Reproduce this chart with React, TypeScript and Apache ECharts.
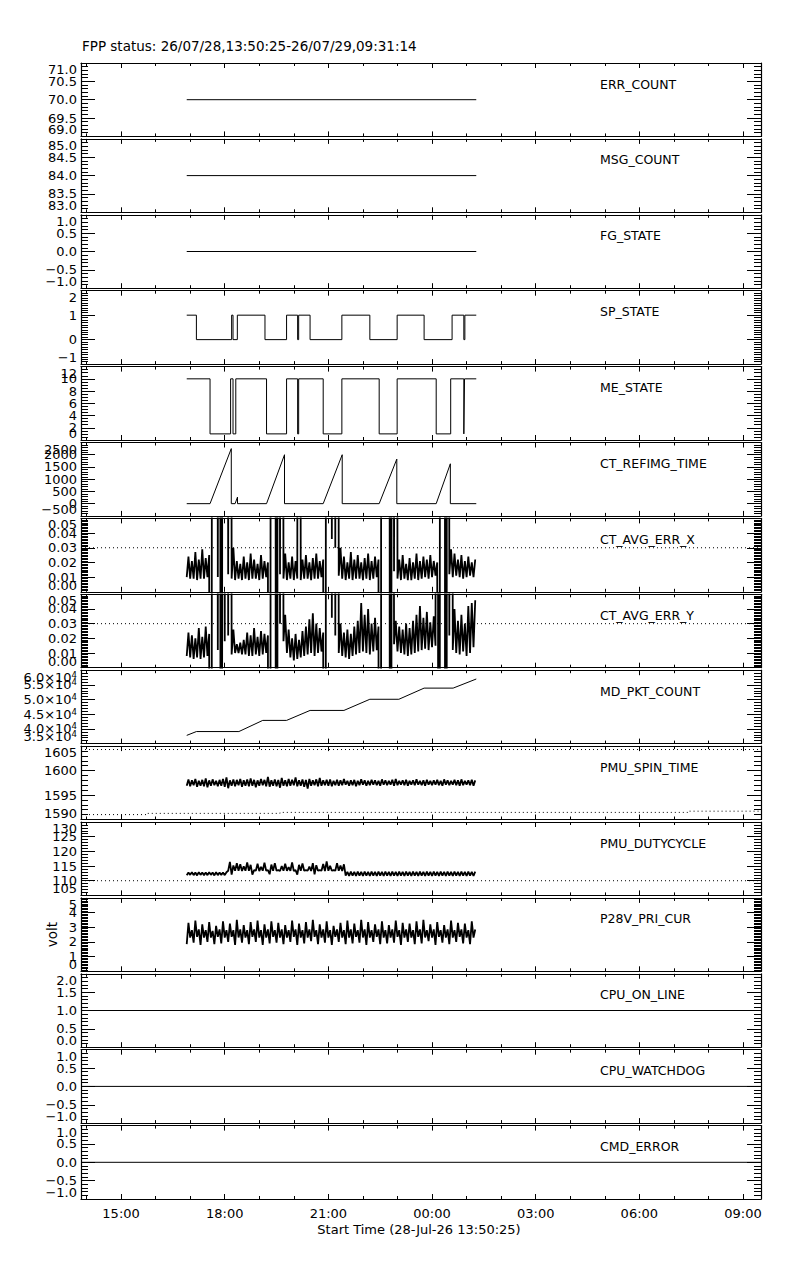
import React, { useEffect, useRef } from "react";
import * as echarts from "echarts";

const TITLE = "FPP status: 26/07/28,13:50:25-26/07/29,09:31:14";
const X_TITLE = "Start Time (28-Jul-26 13:50:25)";
const Y_NAME_P28V = "volt";

// hours since 2026-07-28 00:00
const T_START = 13 + 50 / 60 + 25 / 3600;
const T_END = 33 + 31 / 60 + 14 / 3600;
const MAJOR_HOURS = [15, 18, 21, 24, 27, 30, 33];
const MINOR_HOURS = [14, 16, 17, 19, 20, 22, 23, 25, 26, 28, 29, 31, 32];

const PANEL_NAMES = [
  "ERR_COUNT", "MSG_COUNT", "FG_STATE", "SP_STATE", "ME_STATE", "CT_REFIMG_TIME",
  "CT_AVG_ERR_X", "CT_AVG_ERR_Y", "MD_PKT_COUNT", "PMU_SPIN_TIME", "PMU_DUTYCYCLE",
  "P28V_PRI_CUR", "CPU_ON_LINE", "CPU_WATCHDOG", "CMD_ERROR",
];
const Y_MIN = [69, 83, -1, -1, 0, -500, 0, 0, 35000, 1590, 105, 0, 0, -1, -1];
const Y_MAX = [71, 85, 1, 2, 12, 2500, 0.05, 0.05, 60000, 1605, 130, 5, 2, 1, 1];
const Y_STEP = [0.5, 0.5, 0.5, 1, 2, 500, 0.01, 0.01, 5000, 5, 5, 1, 0.5, 0.5, 0.5];
const Y_MINOR = [5, 5, 5, 10, 4, 5, 10, 10, 5, 5, 5, 10, 5, 5, 5];
const Y_DECIMALS = [1, 1, 1, 0, 0, 0, 2, 2, 1, 0, 0, 0, 1, 1, 1];

// data span of the recorded telemetry
const SEG_START = 16.9;
const SEG_END = 25.28;

const ERR_COUNT = 70;
const MSG_COUNT = 84;
const FG_STATE = 0;
const CPU_ON_LINE = 1;
const CPU_WATCHDOG = 0;
const CMD_ERROR = 0;

const SP_T = [16.9, 17.18, 18.2, 18.24, 18.365, 19.165, 19.79, 20.11, 20.14, 20.47, 21.39, 22.2, 22.99, 23.77, 24.58, 24.92, 24.95, 25.28];
const SP_V = [1, 0, 1, 0, 1, 0, 1, 0, 1, 0, 1, 0, 1, 0, 1, 0, 1, 1];

const ME_T = [16.9, 17.575, 18.17, 18.24, 18.32, 19.21, 19.79, 20.11, 20.14, 20.85, 21.39, 22.47, 22.99, 24.12, 24.54, 24.92, 24.94, 25.28];
const ME_V = [10, 1, 10, 1, 10, 1, 10, 1, 10, 1, 10, 1, 10, 1, 10, 1, 10, 10];

const CTREF_T = [16.9, 17.575, 18.19, 18.19, 18.3, 18.37, 18.37, 19.21, 19.73, 19.73, 20.85, 21.4, 21.4, 22.47, 22.98, 22.98, 24.12, 24.53, 24.53, 25.28];
const CTREF_V = [0, 0, 2250, 0, 0, 270, 0, 0, 2000, 0, 0, 2000, 0, 0, 1820, 0, 0, 1630, 0, 0];

const MD_T = [16.9, 17.18, 18.41, 19.1, 19.79, 20.47, 21.45, 22.2, 23.04, 23.77, 24.61, 25.28];
const MD_V = [37800, 39100, 39100, 42900, 42900, 46300, 46300, 50100, 50100, 53900, 53900, 57000];

// per-bin (0.1 h) low / high envelope of the noisy traces
const BIN_T0 = 16.9;
const BIN_DT = 0.1;

const CTX_LO = [
  0.010, 0.009, 0.009, 0.008, 0.009, 0.009, 0.010, -1, 1, 0.010, -1, 1,
  0.012, 0.009, 0.008, 0.009, 0.008, 0.009, 0.008, 0.009, 0.009, 0.008, 0.009, 0.010,
  -1, 1, -1, 0.012, 0.009, 0.008, 0.009, 0.008, 0.009, 0.008, 0.009, 0.009,
  0.008, 0.009, 0.009, 0.010, -1, 1, 0.036, 0.030, 0.011, 0.009, 0.008, 0.009,
  0.008, 0.009, 0.009, 0.008, 0.009, 0.008, 0.009, 0.010, -1, 1, 1, -1,
  0.014, 0.009, 0.008, 0.009, 0.008, 0.008, 0.009, 0.008, 0.009, 0.010, 0.009, 0.010,
  0.011, -1, 1, -1, 0.012, 0.010, 0.011, 0.010, 0.009, 0.010, 0.011, 0.010,
];
const CTX_HI = [
  0.024, 0.021, 0.027, 0.022, 0.029, 0.023, 0.025, 1, 1, 1, 1, 1,
  1, 0.030, 0.021, 0.019, 0.024, 0.020, 0.026, 0.022, 0.019, 0.025, 0.021, 0.020,
  1, 1, 1, 1, 0.026, 0.020, 0.024, 0.021, 1, 0.022, 0.025, 0.020,
  0.023, 0.026, 0.021, 0.022, 1, 1, 1, 1, 0.030, 0.024, 0.020, 0.027,
  0.022, 0.025, 0.020, 0.023, 0.026, 0.021, 0.024, 0.022, 1, 1, 1, 1,
  1, 0.022, 0.025, 0.019, 0.023, 0.020, 0.026, 0.021, 0.024, 0.022, 0.025, 0.021,
  0.020, 1, 1, 1, 0.029, 0.026, 0.022, 0.025, 0.021, 0.024, 0.020, 0.022,
];
const CTY_LO = [
  0.008, 0.007, 0.006, 0.007, 0.006, 0.007, 0.008, -1, 1, 0.012, -1, 0.018,
  0.022, 0.009, 0.010, 0.010, 0.009, 0.009, 0.008, 0.008, 0.009, 0.008, 0.009, 0.010,
  -1, 1, -1, 0.030, 0.018, 0.010, 0.007, 0.005, 0.006, 0.007, 0.008, 0.009,
  0.010, 0.008, 0.010, 0.011, -1, 1, 0.034, 0.022, 0.010, 0.008, 0.007, 0.006,
  0.008, 0.009, 0.010, 0.011, 0.010, 0.009, 0.011, 0.012, -1, 1, 1, -1,
  0.016, 0.011, 0.010, 0.009, 0.008, 0.009, 0.010, 0.011, 0.012, 0.013, 0.012, 0.014,
  0.015, -1, 1, -1, 0.022, 0.012, 0.010, 0.009, 0.011, 0.008, 0.010, 0.014,
];
const CTY_HI = [
  0.024, 0.022, 0.020, 0.027, 0.021, 0.028, 0.023, 1, 1, 1, 1, 1,
  1, 0.026, 0.016, 0.017, 0.019, 0.024, 0.022, 0.027, 0.021, 0.025, 0.023, 0.022,
  1, 1, 1, 1, 0.036, 0.026, 0.020, 0.023, 0.019, 0.025, 0.028, 0.033,
  0.037, 0.030, 0.027, 0.024, 1, 1, 1, 1, 0.030, 0.024, 0.026, 0.023,
  0.028, 0.032, 0.044, 0.036, 0.040, 0.030, 0.034, 0.028, 1, 1, 1, 1,
  0.032, 0.028, 0.026, 0.030, 0.027, 0.032, 0.036, 0.042, 0.034, 0.038, 0.031, 0.035,
  1, 1, 1, 1, 1, 0.040, 0.032, 0.036, 0.030, 0.042, 0.044, 0.046,
];
const SPIN_LO = [
  1596.9, 1596.8, 1597.0, 1596.7, 1596.9, 1596.8, 1596.6, 1596.9, 1597.0, 1596.8, 1596.9, 1596.7,
  1596.4, 1596.9, 1596.8, 1597.0, 1596.7, 1596.9, 1596.8, 1596.9, 1596.6, 1596.9, 1597.0, 1596.8,
  1596.7, 1596.9, 1596.8, 1596.5, 1596.9, 1596.8, 1596.9, 1597.0, 1596.8, 1596.9, 1596.7, 1596.3,
  1596.9, 1597.0, 1596.8, 1596.9, 1597.0, 1596.9, 1596.8, 1597.0, 1596.9, 1597.0, 1597.1, 1596.9,
  1597.0, 1596.8, 1597.0, 1597.1, 1596.9, 1597.0, 1597.1, 1597.0, 1596.9, 1597.1, 1597.0, 1597.1,
  1596.9, 1597.0, 1597.1, 1597.0, 1596.9, 1597.1, 1597.0, 1597.1, 1597.0, 1596.9, 1597.1, 1597.0,
  1597.1, 1597.0, 1596.9, 1597.1, 1597.0, 1597.1, 1597.0, 1596.9, 1597.0, 1597.1, 1597.0, 1596.9,
];
const SPIN_HI = [
  1598.2, 1598.0, 1598.3, 1597.9, 1598.1, 1598.4, 1598.0, 1598.2, 1597.9, 1598.1, 1598.3, 1598.6,
  1598.0, 1598.2, 1598.1, 1598.3, 1598.0, 1598.2, 1598.4, 1598.1, 1598.0, 1598.3, 1598.1, 1598.7,
  1598.0, 1598.2, 1598.1, 1598.5, 1598.0, 1598.3, 1598.1, 1598.6, 1598.0, 1598.2, 1598.1, 1598.3,
  1598.0, 1598.2, 1598.5, 1598.0, 1598.1, 1598.2, 1597.9, 1598.1, 1598.0, 1598.3, 1597.9, 1598.0,
  1598.1, 1597.9, 1598.2, 1598.0, 1597.9, 1598.1, 1598.0, 1597.9, 1598.2, 1598.0, 1597.9, 1598.1,
  1598.3, 1597.9, 1598.0, 1598.1, 1597.9, 1598.0, 1598.2, 1597.9, 1598.0, 1598.1, 1597.9, 1598.0,
  1598.1, 1597.9, 1598.2, 1598.0, 1597.9, 1598.1, 1598.0, 1598.2, 1597.9, 1598.0, 1598.1, 1598.0,
];
const DUTY_LO = [
  111.9, 112.0, 111.9, 111.8, 112.0, 111.9, 111.9, 112.0, 111.8, 111.9, 112.0, 111.9,
  113.4, 112.1, 113.4, 113.4, 113.3, 113.4, 113.4, 112.1, 113.4, 113.3, 113.4, 113.4,
  112.2, 113.4, 113.4, 113.3, 113.4, 113.4, 113.4, 113.3, 112.1, 113.4, 113.4, 113.4,
  113.3, 112.2, 113.4, 113.4, 113.3, 113.4, 113.4, 113.4, 113.4, 113.3, 111.7, 111.6,
  111.7, 111.6, 111.7, 111.6, 111.7, 111.6, 111.7, 111.6, 111.7, 111.6, 111.7, 111.6,
  111.7, 111.6, 111.7, 111.6, 111.7, 111.6, 111.7, 111.6, 111.7, 111.6, 111.7, 111.6,
  111.7, 111.6, 111.7, 111.6, 111.7, 111.6, 111.7, 111.6, 111.7, 111.6, 111.7, 111.6,
];
const DUTY_HI = [
  112.8, 112.9, 112.8, 112.9, 112.8, 112.8, 112.9, 112.8, 112.9, 112.8, 112.8, 112.9,
  116.4, 115.2, 116.0, 115.6, 114.9, 116.2, 115.4, 113.6, 115.8, 114.7, 116.1, 113.6,
  115.5, 116.0, 113.6, 115.0, 115.8, 114.6, 116.2, 113.6, 115.4, 115.9, 113.6, 114.8,
  116.0, 115.3, 113.6, 115.7, 116.6, 115.1, 113.6, 116.0, 115.2, 115.6, 113.0, 113.1,
  113.0, 113.1, 113.0, 113.1, 113.0, 113.1, 113.0, 113.1, 113.0, 113.1, 113.0, 113.1,
  113.0, 113.1, 113.0, 113.1, 113.0, 113.1, 113.0, 113.1, 113.0, 113.1, 113.0, 113.1,
  113.0, 113.1, 113.0, 113.1, 113.0, 113.1, 113.0, 113.1, 113.0, 113.1, 113.0, 113.1,
];
const P28_LO = [
  1.85, 2.30, 1.95, 2.35, 1.80, 2.30, 2.00, 2.30, 1.85, 2.35, 1.90, 2.30,
  2.00, 2.35, 1.80, 2.30, 1.95, 2.30, 1.85, 2.35, 2.00, 2.30, 1.80, 2.30,
  1.90, 2.35, 1.95, 2.30, 1.85, 2.30, 2.00, 2.35, 1.80, 2.30, 1.90, 2.30,
  2.05, 2.35, 1.85, 2.30, 1.95, 2.30, 1.80, 2.35, 2.00, 2.30, 1.85, 2.30,
  1.90, 2.35, 1.95, 2.30, 1.80, 2.30, 2.00, 2.35, 1.85, 2.30, 1.90, 2.30,
  1.95, 2.35, 1.80, 2.30, 2.00, 2.30, 1.85, 2.35, 1.90, 2.30, 2.05, 2.30,
  1.80, 2.35, 1.95, 2.30, 1.85, 2.30, 2.00, 2.35, 1.90, 2.30, 1.85, 2.30,
];
const P28_HI = [
  3.30, 2.80, 3.45, 2.85, 3.20, 2.80, 3.35, 2.75, 3.10, 2.85, 3.40, 2.80,
  3.25, 2.80, 3.50, 2.85, 3.15, 2.80, 3.35, 2.85, 3.45, 2.80, 3.20, 2.85,
  3.40, 2.80, 3.30, 2.85, 3.15, 2.80, 3.45, 2.85, 3.25, 2.80, 3.35, 2.85,
  3.50, 2.80, 3.20, 2.85, 3.40, 2.80, 3.10, 2.85, 3.30, 2.80, 3.45, 2.85,
  3.25, 2.80, 3.50, 2.85, 3.35, 2.80, 3.20, 2.85, 3.40, 2.80, 3.15, 2.85,
  3.45, 2.80, 3.30, 2.85, 3.25, 2.80, 3.40, 2.85, 3.50, 2.80, 3.20, 2.85,
  3.35, 2.80, 3.15, 2.85, 3.45, 2.80, 3.30, 2.85, 3.25, 2.80, 3.40, 2.85,
];

// limit lines (dotted)
const CT_LIMIT = 0.03;
const SPIN_UPPER = 1604.3;
const SPIN_LOWER_T = [T_START, 15.75, 15.75, 19.6, 19.6, 31.4, 31.4, T_END];
const SPIN_LOWER_V = [1591.0, 1591.0, 1591.25, 1591.25, 1591.45, 1591.45, 1591.7, 1591.7];
const DUTY_LIMIT = 110;

const FONT = '"DejaVu Sans", "Liberation Sans", sans-serif';
const BLACK = "#000";
const GRID_TOP = 63;
const GRID_STEP = 75.9;
const GRID_H = 73.4;
const GRID_LEFT = 81;
const GRID_W = 680;
const AXIS_W = 1.2;
const NOISE_W = 1.8;
const Y_LABEL_SIZE = 13;
const Y_AXES_PER_PANEL = 3;

const pairs = (t: number[], v: number[]) => t.map((x, i) => [x, v[i]]);
const flat = (t0: number, t1: number, v: number) => [[t0, v], [t1, v]];
const envelope = (lo: number[], hi: number[]) => {
  const out: number[][] = [];
  for (let i = 0; i < lo.length; i++) {
    out.push([BIN_T0 + i * BIN_DT, lo[i]]);
    out.push([BIN_T0 + (i + 0.5) * BIN_DT, hi[i]]);
  }
  return out;
};

const hourFmt = (v: number) => String(Math.round(v) % 24).padStart(2, "0") + ":00";
const numFmt = (d: number) => (v: number) => {
  const s = Math.abs(v) < 1e-12 ? (0).toFixed(d) : v.toFixed(d);
  return s.replace("-", "\u2212");
};
const sciFmt = (v: number) => `{a|${(v / 10000).toFixed(1)}\u00d710}{b|4}`;

function buildOption() {
  const grid: any[] = [];
  const xAxis: any[] = [];
  const yAxis: any[] = [];
  const graphic: any[] = [];
  const tickLine = { color: BLACK, width: 1 };

  for (let p = 0; p < 15; p++) {
    const top = GRID_TOP + p * GRID_STEP;
    grid.push({ left: GRID_LEFT, top, width: GRID_W, height: GRID_H, containLabel: false, outerBoundsMode: "none" });
    const last = p === 14;
    const xc = {
      type: "value", gridIndex: p, min: T_START, max: T_END,
      splitLine: { show: false }, minorTick: { show: false },
    };
    const axLine = { show: true, onZero: false, lineStyle: { color: BLACK, width: AXIS_W } };
    for (const pos of ["bottom", "top"]) {
      xAxis.push({
        ...xc, position: pos, axisLine: axLine,
        axisTick: { show: true, inside: true, length: 5, customValues: MAJOR_HOURS, lineStyle: tickLine },
        axisLabel: {
          show: last && pos === "bottom", customValues: MAJOR_HOURS, formatter: hourFmt,
          color: BLACK, fontFamily: FONT, fontSize: 13, margin: 8,
        },
      });
      xAxis.push({
        ...xc, position: pos, axisLine: { show: false, onZero: false },
        axisTick: { show: true, inside: true, length: 3, customValues: MINOR_HOURS, lineStyle: tickLine },
        axisLabel: { show: false },
      });
    }
    const fmt = p === 8 ? sciFmt : numFmt(Y_DECIMALS[p]);
    const rich = p === 8 ? {
      a: { fontFamily: FONT, fontSize: Y_LABEL_SIZE, color: BLACK, lineHeight: 14 },
      b: { fontFamily: FONT, fontSize: 8.5, color: BLACK, verticalAlign: "top", lineHeight: 9 },
    } : undefined;
    const labelBase = { color: BLACK, fontFamily: FONT, fontSize: Y_LABEL_SIZE, margin: 4, formatter: fmt, rich };
    const yc = {
      type: "value", gridIndex: p, min: Y_MIN[p], max: Y_MAX[p], interval: Y_STEP[p],
      splitLine: { show: false }, minorSplitLine: { show: false },
      axisLine: axLine,
      axisTick: { show: true, inside: true, length: 14, lineStyle: tickLine },
      minorTick: { show: true, splitNumber: Y_MINOR[p], length: 7, lineStyle: tickLine },
    };
    // left axis: interior labels + ticks
    yAxis.push({
      ...yc, position: "left",
      axisLabel: { ...labelBase, show: true, showMinLabel: false, showMaxLabel: false },
    });
    // right axis: ticks only
    yAxis.push({ ...yc, position: "right", axisLabel: { show: false } });
    // left edge labels (min / max), kept inside the panel height
    yAxis.push({
      type: "value", gridIndex: p, position: "left", min: Y_MIN[p], max: Y_MAX[p],
      splitLine: { show: false }, axisLine: { show: false, onZero: false },
      axisTick: { show: false }, minorTick: { show: false },
      axisLabel: {
        ...labelBase, show: true, customValues: [Y_MIN[p], Y_MAX[p]],
        showMinLabel: true, showMaxLabel: true,
        verticalAlignMaxLabel: "top", verticalAlignMinLabel: "bottom",
      },
    });

    graphic.push({
      type: "text", x: 600, y: top + 21, silent: true,
      style: { text: PANEL_NAMES[p], fill: BLACK, fontFamily: FONT, fontSize: 12.5, align: "left", verticalAlign: "middle" },
    });
  }

  graphic.push({
    type: "text", x: 82, y: 45.5, silent: true,
    style: { text: TITLE, fill: BLACK, fontFamily: FONT, fontSize: 13.5, align: "left", verticalAlign: "middle" },
  });
  graphic.push({
    type: "text", x: 419, y: 1229, silent: true,
    style: { text: X_TITLE, fill: BLACK, fontFamily: FONT, fontSize: 13, align: "center", verticalAlign: "middle" },
  });
  graphic.push({
    type: "text", x: 52, y: GRID_TOP + 11 * GRID_STEP + GRID_H / 2, rotation: Math.PI / 2, silent: true,
    style: { text: Y_NAME_P28V, fill: BLACK, fontFamily: FONT, fontSize: 13.5, align: "center", verticalAlign: "middle" },
  });

  const series: any[] = [];
  const add = (p: number, data: any[], extra: any = {}) => {
    series.push({
      type: "line", xAxisIndex: 4 * p, yAxisIndex: Y_AXES_PER_PANEL * p, data, symbol: "none", showSymbol: false,
      clip: true, silent: true, animation: false,
      lineStyle: { color: BLACK, width: 1, ...(extra.lineStyle || {}) },
      itemStyle: { color: BLACK }, emphasis: { disabled: true },
      ...(extra.step ? { step: extra.step } : {}),
    });
  };
  const dotted = { lineStyle: { type: [1, 3] } };
  const noisy = { lineStyle: { width: NOISE_W } };

  add(0, flat(SEG_START, SEG_END, ERR_COUNT));
  add(1, flat(SEG_START, SEG_END, MSG_COUNT));
  add(2, flat(SEG_START, SEG_END, FG_STATE));
  add(3, pairs(SP_T, SP_V), { step: "end" });
  add(4, pairs(ME_T, ME_V), { step: "end" });
  add(5, pairs(CTREF_T, CTREF_V));
  add(6, envelope(CTX_LO, CTX_HI), noisy);
  add(6, flat(T_START, T_END, CT_LIMIT), dotted);
  add(7, envelope(CTY_LO, CTY_HI), noisy);
  add(7, flat(T_START, T_END, CT_LIMIT), dotted);
  add(8, pairs(MD_T, MD_V));
  add(9, envelope(SPIN_LO, SPIN_HI), noisy);
  add(9, flat(T_START, T_END, SPIN_UPPER), dotted);
  add(9, pairs(SPIN_LOWER_T, SPIN_LOWER_V), dotted);
  add(10, envelope(DUTY_LO, DUTY_HI), noisy);
  add(10, flat(T_START, T_END, DUTY_LIMIT), dotted);
  add(11, envelope(P28_LO, P28_HI), noisy);
  add(12, flat(T_START, T_END, CPU_ON_LINE));
  add(13, flat(T_START, T_END, CPU_WATCHDOG));
  add(14, flat(T_START, T_END, CMD_ERROR));

  return {
    animation: false,
    backgroundColor: "#fff",
    textStyle: { fontFamily: FONT, color: BLACK },
    grid, xAxis, yAxis, series, graphic,
  };
}

export default function App() {
  const ref = useRef<HTMLDivElement>(null);
  useEffect(() => {
    const chart = echarts.init(ref.current!, undefined, { renderer: "svg" });
    chart.setOption(buildOption() as any);
    return () => chart.dispose();
  }, []);
  return (
    <div
      ref={ref}
      style={{ position: "absolute", left: 0, top: 0, width: 800, height: 1280, background: "#fff" }}
    />
  );
}
